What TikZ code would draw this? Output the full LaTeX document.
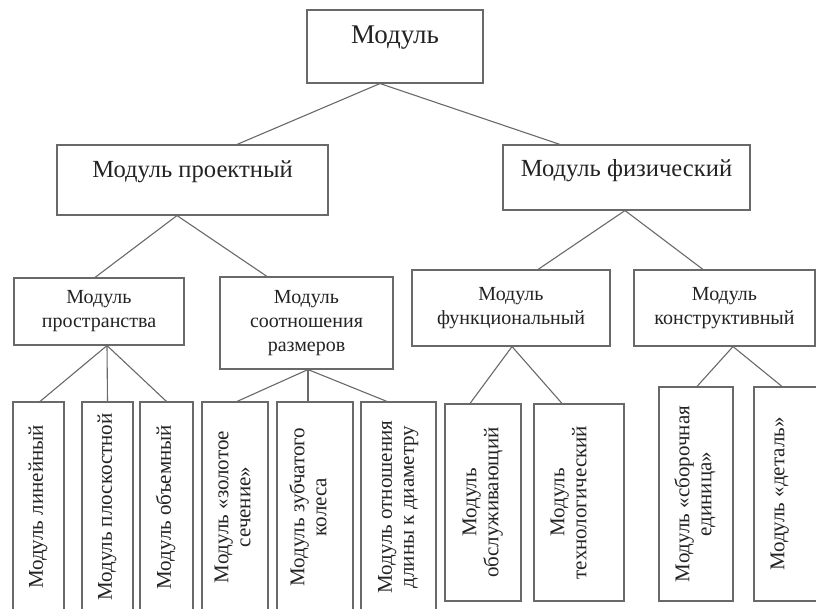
\documentclass[tikz,border=0pt]{standalone}
\usepackage{fontspec}
\setmainfont{Liberation Serif}
\usepackage{graphicx}
\definecolor{lineclr}{RGB}{105,105,105}
\definecolor{textclr}{RGB}{35,35,35}
% vertical (bottom-to-top) label; optional arg widens the box to the right so the text sits further left
\newcommand\leaflabel[2][0pt]{\rotatebox{90}{\raisebox{0pt}[\height][\dimexpr\depth+#1\relax]{\begin{tabular}{@{}c@{}}#2\end{tabular}}}}
\begin{document}
\begin{tikzpicture}[x=1pt,y=-1pt,
  box/.style={draw=lineclr, line width=1.1pt, text=textclr, inner sep=0pt, align=center},
  toplevel/.style={box, font=\fontsize{27}{30}\selectfont},
  firstlevel/.style={box, font=\fontsize{24.6}{28}\selectfont, text height=16.8pt},
  secondlevel/.style={box, font=\fontsize{20}{24}\selectfont},
  leafbox/.style={box, font=\fontsize{21}{22}\selectfont},
  link/.style={draw=lineclr, line width=1.1pt}]
\useasboundingbox (0,0) rectangle (816,608);
\clip (0,0) rectangle (816,608);

% root
\node[toplevel, minimum width=176pt, minimum height=73pt, text height=18pt, text depth=25pt]
  (root) at (395,46.5) {Модуль};

% first level
\node[firstlevel, minimum width=271pt, minimum height=70pt, text depth=22.5pt]
  (proj) at (192.5,180) {Модуль проектный};
\node[firstlevel, minimum width=247pt, minimum height=65pt, text depth=19.5pt]
  (phys) at (626.5,177.5) {Модуль физический};

% second level
\node[secondlevel, minimum width=170pt, minimum height=67pt]
  (space) at (99,311.5) {Модуль\\пространства};
\node[secondlevel, minimum width=173pt, minimum height=92pt]
  (ratio) at (306.5,323) {Модуль\\соотношения\\размеров};
\node[secondlevel, minimum width=198pt, minimum height=76pt]
  (func) at (511,308) {Модуль\\функциональный};
\node[secondlevel, minimum width=181pt, minimum height=76pt]
  (constr) at (724.5,308) {Модуль\\конструктивный};

% leaves
\node[leafbox, minimum width=51pt, minimum height=210pt] (leafA) at (38.5,507)
  {\leaflabel{Модуль линейный}};
\node[leafbox, minimum width=51pt, minimum height=210pt] (leafB) at (107.5,507)
  {\leaflabel{Модуль плоскостной}};
\node[leafbox, minimum width=53pt, minimum height=210pt] (leafC) at (166.5,507)
  {\leaflabel{Модуль объемный}};
\node[leafbox, minimum width=66pt, minimum height=210pt] (leafD) at (235,507)
  {\leaflabel{Модуль «золотое\\сечение»}};
\node[leafbox, minimum width=76pt, minimum height=210pt] (leafE) at (315,507)
  {\leaflabel[8pt]{Модуль зубчатого\\колеса}};
\node[leafbox, minimum width=75pt, minimum height=210pt] (leafF) at (398.5,507)
  {\leaflabel{Модуль отношения\\длины к диаметру}};
\node[leafbox, minimum width=76pt, minimum height=197pt] (leafG) at (483,502.5)
  {\leaflabel{Модуль\\обслуживающий}};
\node[leafbox, minimum width=90pt, minimum height=197pt] (leafH) at (579,502.5)
  {\leaflabel[16pt]{Модуль\\технологический}};
\node[leafbox, minimum width=74pt, minimum height=214pt] (leafI) at (696,494)
  {\leaflabel{Модуль «сборочная\\единица»}};
\node[leafbox, minimum width=68pt, minimum height=214pt] (leafJ) at (788,494)
  {\leaflabel[16pt]{Модуль «деталь»}};

% connectors
\draw[link] ([xshift=-15pt]root.south) -- ([xshift=44.5pt]proj.north);
\draw[link] ([xshift=-15pt]root.south) -- ([xshift=-66.5pt]phys.north);

\draw[link] ([xshift=-15.5pt]proj.south) -- ([xshift=-4pt]space.north);
\draw[link] ([xshift=-15.5pt]proj.south) -- ([xshift=-39.5pt]ratio.north);
\draw[link] ([xshift=-1.5pt]phys.south) -- ([xshift=27pt]func.north);
\draw[link] ([xshift=-1.5pt]phys.south) -- ([xshift=-21.5pt]constr.north);

\draw[link] ([xshift=8pt]space.south) -- ([xshift=1.5pt]leafA.north);
\draw[link] ([xshift=8pt]space.south) -- (leafB.north);
\draw[link] ([xshift=8pt]space.south) -- (leafC.north);

\draw[link] ([xshift=1.5pt]ratio.south) -- ([xshift=2pt]leafD.north);
\draw[link] ([xshift=1.5pt]ratio.south) -- ([xshift=-7pt]leafE.north);
\draw[link] ([xshift=1.5pt]ratio.south) -- ([xshift=-11.5pt]leafF.north);

\draw[link] ([xshift=1pt]func.south) -- ([xshift=-13pt]leafG.north);
\draw[link] ([xshift=1pt]func.south) -- ([xshift=-17pt]leafH.north);

\draw[link] ([xshift=8.5pt]constr.south) -- ([xshift=1pt]leafI.north);
\draw[link] ([xshift=8.5pt]constr.south) -- ([xshift=-6pt]leafJ.north);
\end{tikzpicture}
\end{document}
